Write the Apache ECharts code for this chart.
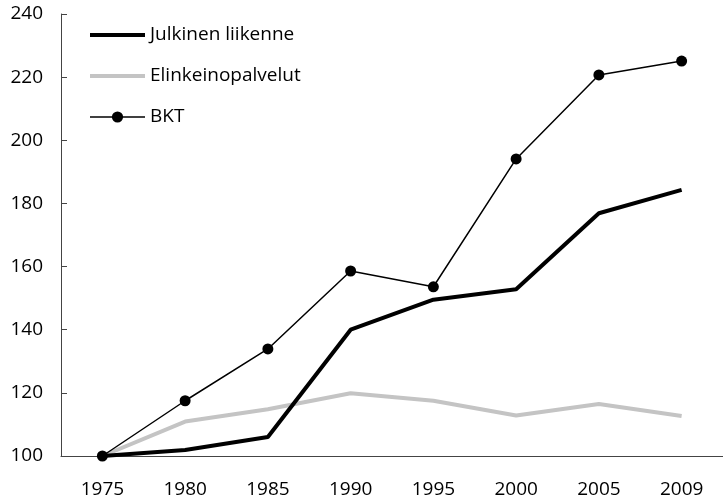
<!DOCTYPE html>
<html>
<head>
<meta charset="utf-8">
<script src="https://cdn.jsdelivr.net/npm/echarts@6/dist/echarts.min.js"></script>
<style>
  html, body { margin: 0; padding: 0; background: #fff; }
  #chart { width: 723px; height: 500px; }
</style>
</head>
<body>
<div id="chart"></div>
<script>
// vuodet (x-akseli)
const years = ["1975", "1980", "1985", "1990", "1995", "2000", "2005", "2009"]
// sarjat, indeksi 1975 = 100
const julkinenLiikenne = [100, 101.9, 106, 140, 149.5, 152.8, 176.9, 184.3]
const elinkeinopalvelut = [100, 110.9, 114.8, 119.9, 117.5, 112.8, 116.5, 112.7]
const bkt = [100, 117.5, 133.9, 158.6, 153.6, 194.1, 220.7, 225.1]
// y-akselin asteikko
const yMin = 100
const yMax = 240
const yStep = 20

const font = "Open Sans"
const myChart = echarts.init(document.getElementById("chart"))

const option = {
  animation: false,
  textStyle: { fontFamily: font },
  grid: {
    left: 61,
    right: -2,
    top: 14,
    bottom: 44,
    containLabel: false,
  },
  legend: {
    orient: "vertical",
    left: 83,
    top: 20,
    itemWidth: 55,
    itemHeight: 14,
    itemGap: 21,
    textStyle: {
      color: "#000",
      fontSize: 19,
      fontFamily: font,
      lineHeight: 20,
    },
    // legendan ikonit: paksut viivat ilman pisteitä
    data: [
      { name: "Julkinen liikenne", itemStyle: { opacity: 0 }, lineStyle: { width: 4 } },
      { name: "Elinkeinopalvelut", itemStyle: { opacity: 0 }, lineStyle: { width: 4 } },
      { name: "BKT", lineStyle: { width: 1.5 } },
    ],
  },
  xAxis: {
    type: "category",
    data: years,
    boundaryGap: true,
    axisLine: { lineStyle: { color: "#444", width: 1 } },
    axisTick: { inside: true, length: 6, lineStyle: { color: "#444" } },
    axisLabel: { color: "#000", fontSize: 19, margin: 24, fontFamily: font },
    splitLine: { show: false },
  },
  yAxis: {
    type: "value",
    min: yMin,
    max: yMax,
    interval: yStep,
    axisLine: { show: true, lineStyle: { color: "#444", width: 1 } },
    axisTick: { show: true, inside: true, length: 6, lineStyle: { color: "#444" } },
    axisLabel: { color: "#000", fontSize: 19, margin: 18, fontFamily: font },
    splitLine: { show: false },
  },
  series: [
    {
      name: "Julkinen liikenne",
      type: "line",
      data: julkinenLiikenne,
      symbol: "none",
      color: "#000",
      lineStyle: { color: "#000", width: 4 },
      z: 3,
    },
    {
      name: "Elinkeinopalvelut",
      type: "line",
      data: elinkeinopalvelut,
      symbol: "none",
      color: "#c4c4c4",
      lineStyle: { color: "#c4c4c4", width: 4 },
      z: 2,
    },
    {
      name: "BKT",
      type: "line",
      data: bkt,
      symbol: "circle",
      symbolSize: 11,
      color: "#000",
      itemStyle: { color: "#000" },
      lineStyle: { color: "#000", width: 1.5 },
      z: 4,
    },
  ],
}

myChart.setOption(option)
</script>
</body>
</html>
